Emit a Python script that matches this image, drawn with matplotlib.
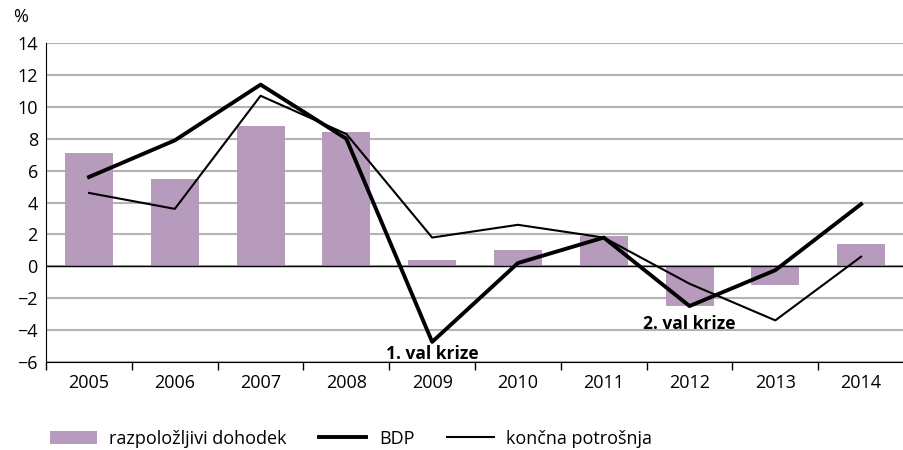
import matplotlib
matplotlib.use("Agg")
import matplotlib.pyplot as plt
import numpy as np

plt.rcParams['font.family'] = ['Open Sans', 'DejaVu Sans']

years = ['2005', '2006', '2007', '2008', '2009', '2010', '2011', '2012', '2013', '2014']
dohodek = [7.1, 5.5, 8.8, 8.4, 0.4, 1.0, 1.9, -2.5, -1.2, 1.4]
bdp = [5.6, 7.9, 11.4, 8.0, -4.75, 0.2, 1.8, -2.5, -0.25, 3.9]
potrosnja = [4.6, 3.6, 10.7, 8.3, 1.8, 2.6, 1.8, -1.1, -3.4, 0.6]

x = np.arange(len(years))

fig = plt.figure(figsize=(9.04, 4.5), dpi=100)
ax = fig.add_axes([0.051, 0.196, 0.949, 0.708])

b = ax.bar(x, dohodek, width=0.56, color='#b79bbd', label='razpoložljivi dohodek', zorder=2)
l1, = ax.plot(x, bdp, color='black', lw=2.8, label='BDP', zorder=4)
l2, = ax.plot(x, potrosnja, color='black', lw=1.5, label='končna potrošnja', zorder=3)

ax.set_xlim(-0.5, 9.5)
ax.set_ylim(-6, 14)
ax.set_yticks(range(-6, 15, 2))
ax.yaxis.grid(True, color='#b3b3b3', lw=1.5, zorder=0)
ax.set_axisbelow(True)
ax.axhline(0, color='black', lw=1.0, zorder=2.5)

ax.set_xticks(x)
ax.set_xticklabels(years)
ax.set_xticks(np.arange(-0.5, 10, 1), minor=True)
ax.tick_params(axis='x', which='major', length=0, pad=9, labelsize=13)
ax.tick_params(axis='x', which='minor', length=6, width=1, direction='out')
ax.tick_params(axis='y', length=0, pad=6, labelsize=13)

for s in ['top', 'right']:
    ax.spines[s].set_visible(False)
ax.spines['left'].set_color('black')
ax.spines['bottom'].set_color('black')

ax.text(4, -5.5, '1. val krize', ha='center', va='center', fontsize=12.5, fontweight='bold')
ax.text(7, -3.6, '2. val krize', ha='center', va='center', fontsize=12.5, fontweight='bold')

fig.text(0.015, 0.962, '%', fontsize=13, ha='left', va='center')

fig.legend(handles=[b, l1, l2], loc='center left', bbox_to_anchor=(0.055, 0.025), ncol=3,
           frameon=False, fontsize=13, handlelength=2.6, handleheight=0.8,
           columnspacing=1.8, handletextpad=0.7, borderpad=0, borderaxespad=0)

fig.savefig('out.png', dpi=100)
